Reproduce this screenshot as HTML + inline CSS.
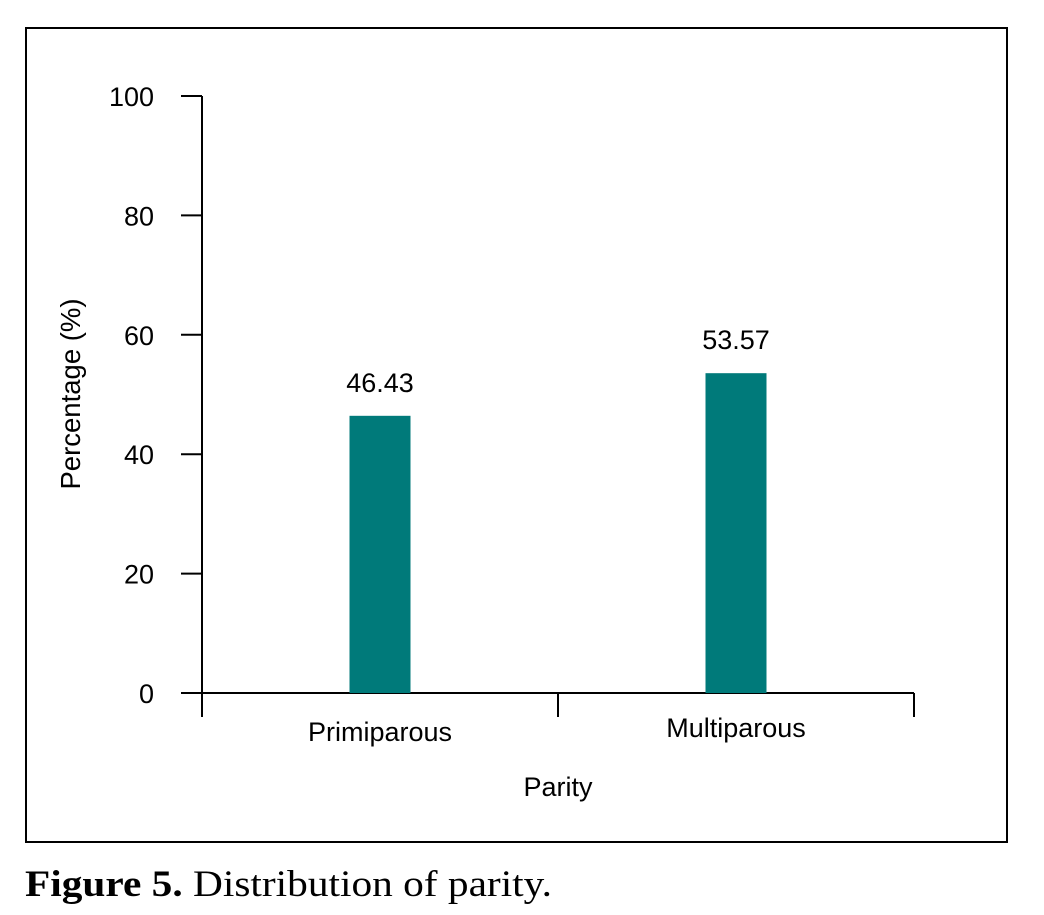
<!DOCTYPE html>
<html><head><meta charset="utf-8"><style>
body{margin:0;background:#fff;width:1044px;height:915px;overflow:hidden}
svg{position:absolute;left:0;top:0}
</style></head><body>
<svg id="c" width="1044" height="915" xmlns="http://www.w3.org/2000/svg">
<rect x="26" y="28" width="981" height="814" fill="none" stroke="#000" stroke-width="2"/>
<text x="80" y="394" transform="rotate(-90 80 394)" text-anchor="middle" font-family="Liberation Sans, sans-serif" font-size="27.5">Percentage (%)</text>
<text x="558" y="796" text-anchor="middle" font-family="Liberation Sans, sans-serif" font-size="27">Parity</text>
<text x="25" y="896" font-family="Liberation Serif, serif" font-size="37" textLength="527" lengthAdjust="spacingAndGlyphs"><tspan font-weight="bold">Figure 5.</tspan> Distribution of parity.</text>
<g id="g"></g>
</svg>
<script>
const categories=["Primiparous","Multiparous"];
const values=[46.43,53.57];
const valueLabels=["46.43","53.57"];
const yTicks=[0,20,40,60,80,100];
const y0=693,y1=96,x0=202,x1=914;
const y=v=>y0-(v/100)*(y0-y1);
const bandW=(x1-x0)/categories.length;
const xc=i=>x0+bandW*(i+0.5);
const ns="http://www.w3.org/2000/svg",g=document.getElementById('g');
function mk(t,a,txt){const e=document.createElementNS(ns,t);for(const k in a)e.setAttribute(k,a[k]);if(txt!==undefined)e.textContent=txt;g.appendChild(e);return e;}
let e=mk('line',{x1:x0,y1:y1,x2:x0,y2:717,stroke:'#000','stroke-width':2});


e=mk('line',{x1:181,y1:y0,x2:x1,y2:y0,stroke:'#000','stroke-width':2});


yTicks.forEach(t=>{
 e=mk('line',{x1:181,y1:y(t),x2:x0,y2:y(t),stroke:'#000','stroke-width':2});
 
 
 e=mk('text',{x:154,y:y(t)+10,'text-anchor':'end','font-family':'Liberation Sans, sans-serif','font-size':27},String(t));
 
 
});
for(let i=0;i<=categories.length;i++){
 const xx=x0+bandW*i;
 e=mk('line',{x1:xx,y1:y0,x2:xx,y2:717,stroke:'#000','stroke-width':2});
 
 
}
categories.forEach((c,i)=>{
 const bw=61;
 e=mk('rect',{x:xc(i)-bw/2,y:y(values[i]),width:bw,height:y0-y(values[i]),fill:'#007a7a'});
 
 
 e=mk('text',{x:xc(i),y:y(values[i])-24,'text-anchor':'middle','font-family':'Liberation Sans, sans-serif','font-size':27},valueLabels[i]);
 
 
 e=mk('text',{x:xc(i),y:i===0?741:737,'text-anchor':'middle','font-family':'Liberation Sans, sans-serif','font-size':27},c);
 
 
});
</script>
</body></html>
